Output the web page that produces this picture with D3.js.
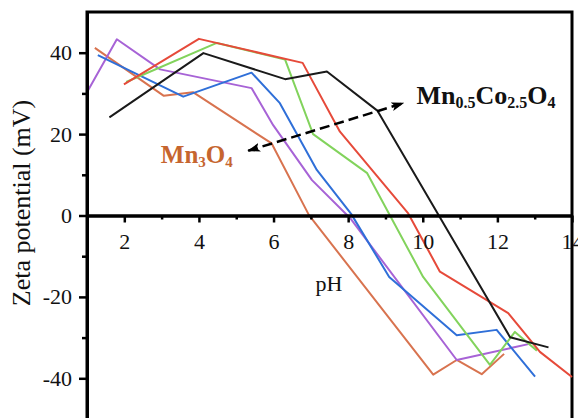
<!DOCTYPE html>
<html><head><meta charset="utf-8">
<script src="https://cdn.jsdelivr.net/npm/d3@7"></script>
<style>body{margin:0;background:#fff}svg{display:block}</style>
</head><body>
<svg id="c" width="578" height="418"></svg>
<script>
// ---- data ----
const xTicks = [2, 4, 6, 8, 10, 12, 14];
const xMinor = [3, 5, 7, 9, 11, 13];
const yTicks = [-40, -20, 0, 20, 40];
const yMinor = [-30, -10, 10, 30];

const redPH   = [1.99, 4.0, 6.78, 7.78, 9.61, 10.46, 12.29, 13.14, 14.0];
const redZeta = [32.2, 43.4, 37.5, 20.6, 0.5, -13.8, -24.0, -33.5, -39.7];

const orangePH   = [1.21, 3.06, 3.84, 5.95, 6.95, 10.28, 10.91, 11.58, 12.18];
const orangeZeta = [41.2, 29.4, 30.3, 17.7, 0.1, -39.1, -35.5, -39.0, -34.0];

const greenPH   = [2.05, 4.48, 6.31, 7.06, 8.51, 10.01, 11.80, 12.47, 13.06];
const greenZeta = [32.8, 42.4, 38.3, 20.0, 10.4, -15.1, -36.7, -28.6, -33.2];

const blackPH   = [1.60, 4.12, 6.31, 7.43, 8.79, 12.34, 13.37];
const blackZeta = [24.1, 39.9, 33.5, 35.4, 25.7, -29.9, -32.4];

const bluePH   = [1.29, 3.58, 5.41, 6.17, 7.16, 8.08, 9.10, 10.91, 11.98, 13.01];
const blueZeta = [39.4, 29.2, 35.1, 27.6, 11.2, 0.4, -15.1, -29.4, -28.1, -39.6];

const purplePH   = [1.0, 1.80, 2.96, 5.41, 5.99, 7.03, 8.05, 10.91, 12.83];
const purpleZeta = [30.3, 43.3, 35.9, 31.3, 22.2, 8.7, -0.6, -35.5, -31.6];

const seriesList = [
  {ph: orangePH, zeta: orangeZeta, color: '#d8734f'},
  {ph: purplePH, zeta: purpleZeta, color: '#a763d6'},
  {ph: bluePH, zeta: blueZeta, color: '#2f6fd8'},
  {ph: greenPH, zeta: greenZeta, color: '#82d35c'},
  {ph: redPH, zeta: redZeta, color: '#e64a3a'},
  {ph: blackPH, zeta: blackZeta, color: '#1a1a1a'}
];

// ---- layout ----
const svg = d3.select('#c');
const x = d3.scaleLinear().domain([1, 14]).range([87, 572]);
const y = d3.scaleLinear().domain([-50, 50]).range([419, 12]);
const serif = '"Liberation Serif", "Times New Roman", serif';

// frame (top, right)
svg.append('rect')
  .attr('x', x(1)).attr('y', y(50))
  .attr('width', x(14) - x(1)).attr('height', y(-50) - y(50) + 4)
  .attr('fill', 'none').attr('stroke', '#000').attr('stroke-width', 3);

// lines
const line = d3.line().x(d => x(d[0])).y(d => y(d[1]));
seriesList.forEach(s => {
  svg.append('path')
    .datum(s.ph.map((p, i) => [p, s.zeta[i]]))
    .attr('d', line)
    .attr('fill', 'none')
    .attr('stroke', s.color)
    .attr('stroke-width', 2)
    .attr('stroke-linejoin', 'round');
});

// y axis
const yAxis = svg.append('g').attr('transform', `translate(${x(1)},0)`)
  .call(d3.axisLeft(y).tickValues(yTicks).tickSize(8).tickSizeOuter(0).tickPadding(7).tickFormat(d => String(d)));
const yAxisMinor = svg.append('g').attr('transform', `translate(${x(1)},0)`)
  .call(d3.axisLeft(y).tickValues(yMinor).tickSize(5).tickSizeOuter(0).tickFormat(''));

// x axis at zero
const xAxis = svg.append('g').attr('transform', `translate(0,${y(0)})`)
  .call(d3.axisBottom(x).tickValues(xTicks).tickSize(7).tickSizeOuter(0).tickPadding(11).tickFormat(d => String(d)));
const xAxisMinor = svg.append('g').attr('transform', `translate(0,${y(0)})`)
  .call(d3.axisBottom(x).tickValues(xMinor).tickSize(4).tickSizeOuter(0).tickFormat(''));

[yAxis, yAxisMinor, xAxis, xAxisMinor].forEach(g => {
  g.select('.domain').attr('stroke', '#000').attr('stroke-width', 3);
  g.selectAll('.tick line').attr('stroke', '#000').attr('stroke-width', 2.5);
  g.selectAll('text').attr('font-family', serif).attr('font-size', 22).attr('fill', '#111');
});

// axis titles
svg.append('text')
  .attr('transform', 'translate(30,203) rotate(-90)')
  .attr('text-anchor', 'middle')
  .attr('font-family', serif).attr('font-size', 26).attr('fill', '#111')
  .text('Zeta potential (mV)');
svg.append('text')
  .attr('x', 329).attr('y', 291)
  .attr('text-anchor', 'middle')
  .attr('font-family', serif).attr('font-size', 22).attr('fill', '#111')
  .text('pH');

// dashed double arrow
const defs = svg.append('defs');
defs.append('marker').attr('id', 'ah')
  .attr('viewBox', '0 0 13 9').attr('refX', 12).attr('refY', 4.5)
  .attr('markerWidth', 13).attr('markerHeight', 9)
  .attr('markerUnits', 'userSpaceOnUse')
  .attr('orient', 'auto-start-reverse')
  .append('path').attr('d', 'M0,0 L13,4.5 L0,9 L3,4.5 Z').attr('fill', '#000');

const arrowFrom = [5.32, 15.9], arrowTo = [9.48, 27.6];
svg.append('line')
  .attr('x1', x(arrowFrom[0])).attr('y1', y(arrowFrom[1]))
  .attr('x2', x(arrowTo[0])).attr('y2', y(arrowTo[1]))
  .attr('stroke', '#000').attr('stroke-width', 2.5)
  .attr('stroke-dasharray', '10,5')
  .attr('marker-start', 'url(#ah)').attr('marker-end', 'url(#ah)');

// labels with subscripts
function chem(px, py, parts, color, big, small) {
  const t = svg.append('text').attr('x', x(px)).attr('y', y(py))
    .attr('font-family', serif).attr('font-weight', 'bold').attr('fill', color);
  let sub = false;
  parts.forEach(p => {
    const isSub = p[1];
    const ts = t.append('tspan').text(p[0]).attr('font-size', isSub ? small : big);
    if (isSub && !sub) ts.attr('dy', 4);
    if (!isSub && sub) ts.attr('dy', -4);
    sub = isSub;
  });
}
chem(2.98, 12.8, [['Mn', false], ['3', true], ['O', false], ['4', true]], '#c6652f', 25, 15);
chem(9.83, 27.5, [['Mn', false], ['0.5', true], ['Co', false], ['2.5', true], ['O', false], ['4', true]], '#111', 26, 16);
</script>
</body></html>
